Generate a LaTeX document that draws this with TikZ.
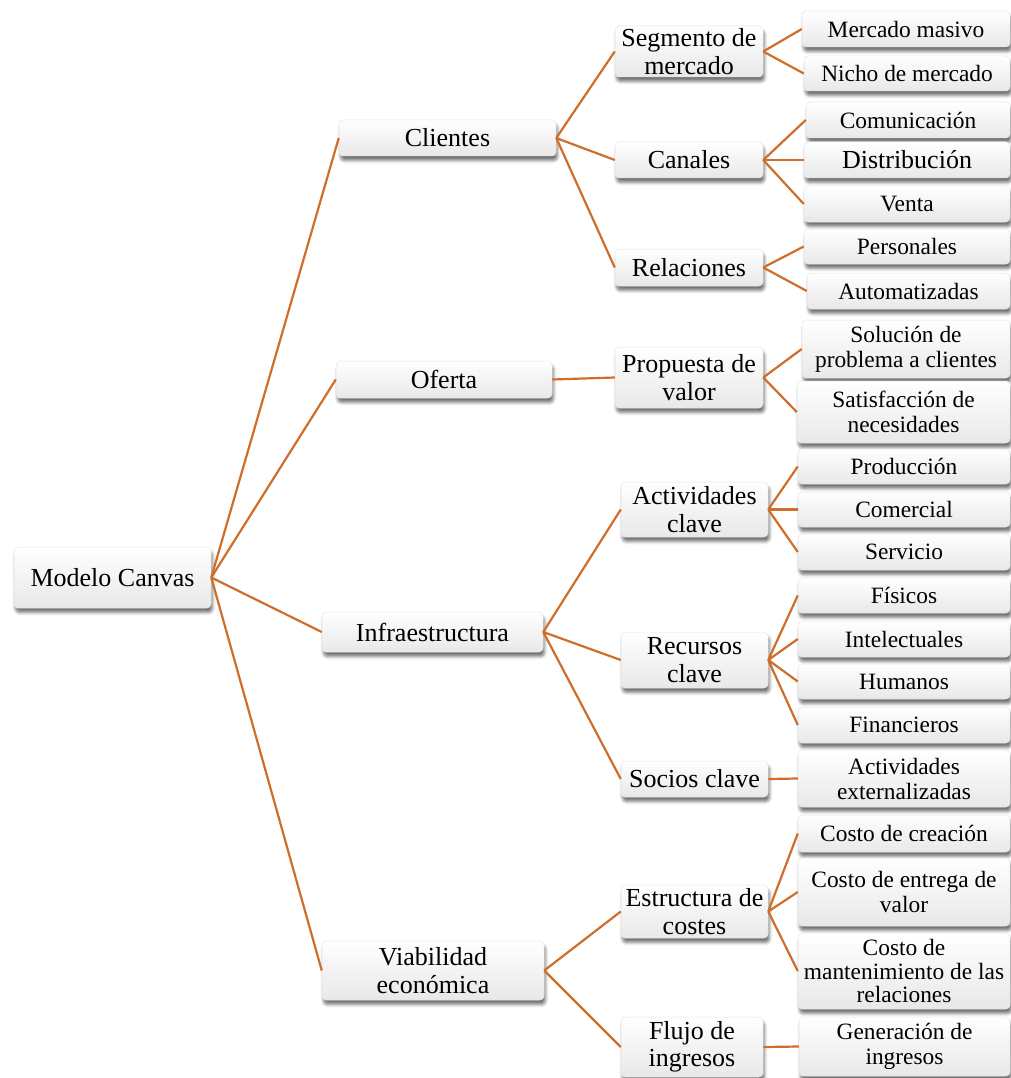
\documentclass[tikz,border=0pt]{standalone}
\usepackage{fontspec}
\setmainfont{Liberation Serif}
\usetikzlibrary{shadows.blur}
\definecolor{linkorange}{RGB}{206,110,42}
\definecolor{boxedge}{RGB}{228,228,228}
\tikzset{
  box/.style={rectangle, rounded corners=4pt, draw=boxedge, line width=0.5pt,
    top color=white, middle color=white, bottom color=black!9,
    inner sep=0pt, align=center, text=black,
    blur shadow={shadow xshift=1.5pt, shadow yshift=-4.5pt,
      shadow blur radius=3pt, shadow opacity=55}},
  big/.style={box, font=\fontsize{26}{27.5}\selectfont},
  leaf/.style={box, font=\fontsize{23.4}{25}\selectfont},
  sz/.style 2 args={minimum width=#1pt, minimum height=#2pt},
  link/.style={draw=linkorange, line width=2.2pt}
}
\begin{document}
\begin{tikzpicture}[x=1pt, y=-1pt]
\useasboundingbox (0,0) rectangle (1011,1078);

% root and first level
\node[big, sz={197}{61}] (root) at (112.5,577.5) {Modelo Canvas};
\node[big, sz={217}{36}] (cli) at (447.5,138) {Clientes};
\node[big, sz={216}{37}] (ofe) at (444,379.5) {Oferta};
\node[big, sz={221}{40}] (inf) at (432.5,632) {Infraestructura};
\node[big, sz={222}{59}] (via) at (433,970.5) {Viabilidad\\econ\'omica};

% second level
\node[big, sz={148}{51}] (seg) at (689,51.5) {Segmento de\\mercado};
\node[big, sz={148}{36}] (can) at (689,160) {Canales};
\node[big, sz={148}{37}] (rel) at (689,267.5) {Relaciones};
\node[big, sz={148}{61}] (pro) at (689,377.5) {Propuesta de\\valor};
\node[big, sz={147}{55}] (act) at (694.5,509.5) {Actividades\\clave};
\node[big, sz={147}{56}] (rec) at (694.5,660) {Recursos\\clave};
\node[big, sz={147}{36}] (soc) at (694.5,779) {Socios clave};
\node[big, sz={147}{53}] (est) at (694.5,911.5) {Estructura de\\costes};
\node[big, sz={142}{60}] (flu) at (692,1047) {Flujo de\\ingresos};

% leaves
\node[leaf, sz={208}{36}] (mm)  at (906,29) {Mercado masivo};
\node[leaf, sz={206}{35}] (nm)  at (907,73.5) {Nicho de mercado};
\node[leaf, sz={204}{36}] (com) at (908,120) {Comunicaci\'on};
\node[big,  sz={206}{36}] (dis) at (907,160) {Distribuci\'on};
\node[leaf, sz={206}{36}] (ven) at (907,204) {Venta};
\node[leaf, sz={206}{35}] (per) at (907,246.5) {Personales};
\node[leaf, sz={203}{36}] (aut) at (908.5,291) {Automatizadas};
\node[leaf, sz={208}{58}] (sol) at (906,349) {Soluci\'on de\\problema a clientes};
\node[leaf, sz={213}{62}] (sat) at (903.5,412) {Satisfacci\'on de\\necesidades};
\node[leaf, sz={212}{35}] (prd) at (904,466.5) {Producci\'on};
\node[leaf, sz={212}{35}] (cme) at (904,509.5) {Comercial};
\node[leaf, sz={212}{36}] (ser) at (904,552) {Servicio};
\node[leaf, sz={212}{35}] (fis) at (904,595.5) {F\'isicos};
\node[leaf, sz={212}{36}] (int) at (904,639) {Intelectuales};
\node[leaf, sz={212}{35}] (hum) at (904,681.5) {Humanos};
\node[leaf, sz={212}{36}] (fin) at (904,725) {Financieros};
\node[leaf, sz={212}{57}] (ext) at (904,778.5) {Actividades\\externalizadas};
\node[leaf, sz={212}{37}] (ccr) at (904,833.5) {Costo de creaci\'on};
\node[leaf, sz={212}{68}] (cev) at (904,892) {Costo de entrega de\\valor};
\node[leaf, sz={212}{76}, font=\fontsize{23.4}{23.5}\selectfont] (cmr) at (904,971) {Costo de\\mantenimiento de las\\relaciones};
\node[leaf, sz={211}{59}] (gen) at (904.5,1046.5) {Generaci\'on de\\ingresos};

% connectors
\foreach \a/\b in {root/cli, root/ofe, root/inf, root/via,
  cli/seg, cli/can, cli/rel, ofe/pro,
  inf/act, inf/rec, inf/soc, via/est, via/flu,
  seg/mm, seg/nm, can/com, can/dis, can/ven, rel/per, rel/aut,
  pro/sol, pro/sat, act/prd, act/cme, act/ser,
  rec/fis, rec/int, rec/hum, rec/fin, soc/ext,
  est/ccr, est/cev, est/cmr, flu/gen}
  \draw[link] (\a.east) -- (\b.west);
\end{tikzpicture}
\end{document}
